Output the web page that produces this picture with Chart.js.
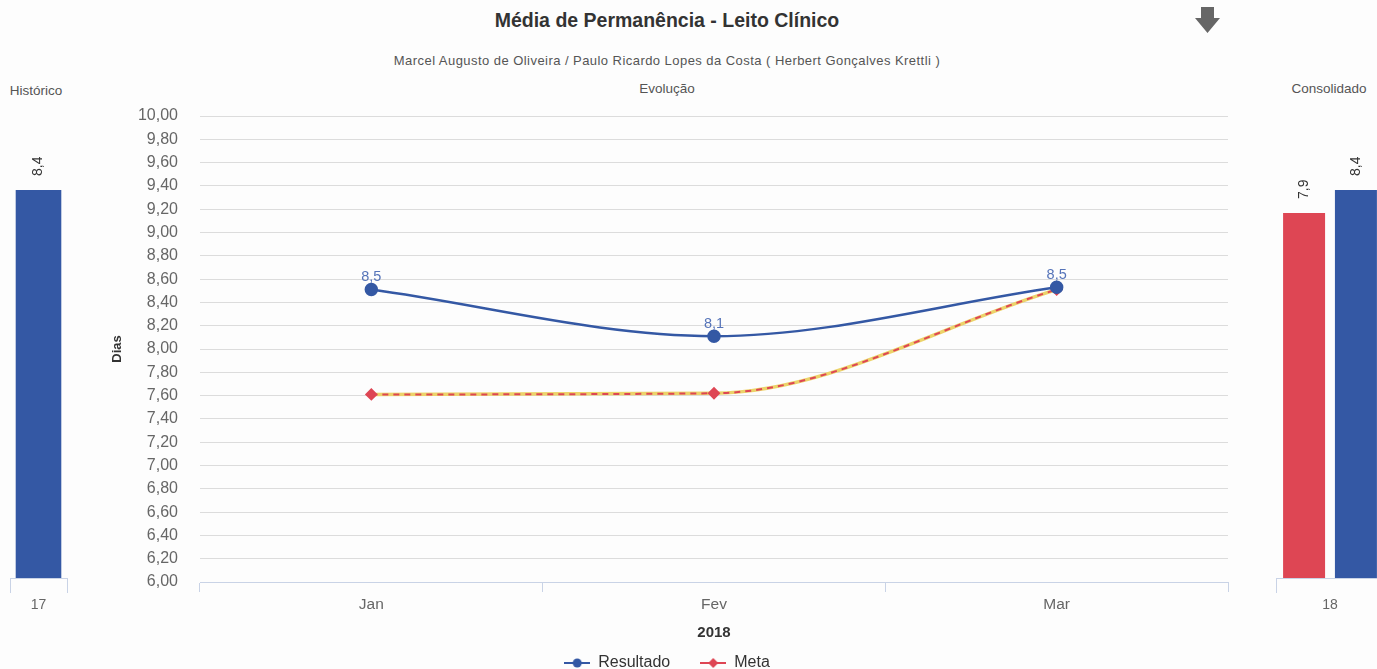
<!DOCTYPE html>
<html lang="pt-BR">
<head>
<meta charset="utf-8">
<title>Média de Permanência - Leito Clínico</title>
<script src="https://cdn.jsdelivr.net/npm/chart.js@4.4.1/dist/chart.umd.min.js"></script>
<style>
  html, body { margin: 0; padding: 0; background: #fdfdfd; }
  body { width: 1377px; height: 669px; overflow: hidden; position: relative;
         font-family: "Liberation Sans", Arial, Helvetica, sans-serif; }
  .txt { position: absolute; white-space: nowrap; transform: translateX(-50%); }
  #titulo { left: 667px; top: 9px; font-size: 19.5px; font-weight: bold; color: #333; }
  #subtitulo { left: 667px; top: 53px; font-size: 13px; letter-spacing: 0.45px; color: #555; }
  #evolucao { left: 667px; top: 81px; font-size: 13.5px; color: #555; }
  #historico { left: 36px; top: 83px; font-size: 13.5px; color: #555; }
  #consolidado { left: 1329px; top: 81px; font-size: 13.5px; color: #555; }
  .box { position: absolute; }
  #boxHist { left: 0; top: 100px; width: 80px; height: 520px; }
  #boxMain { left: 100px; top: 100px; width: 1140px; height: 581px; }
  #boxCons { left: 1260px; top: 100px; width: 140px; height: 520px; }
  #download { position: absolute; left: 1193px; top: 6px; }
</style>
</head>
<body>
<div id="titulo" class="txt">Média de Permanência - Leito Clínico</div>
<div id="subtitulo" class="txt">Marcel Augusto de Oliveira / Paulo Ricardo Lopes da Costa ( Herbert Gonçalves Krettli )</div>
<div id="evolucao" class="txt">Evolução</div>
<div id="historico" class="txt">Histórico</div>
<div id="consolidado" class="txt">Consolidado</div>
<svg id="download" width="30" height="30" viewBox="0 0 30 30">
  <polygon points="8,1 21,1 21,12 27,12 14.5,27 2,12 8,12" fill="#666"/>
</svg>
<div id="boxHist" class="box"><canvas id="cHist"></canvas></div>
<div id="boxMain" class="box"><canvas id="cMain"></canvas></div>
<div id="boxCons" class="box"><canvas id="cCons"></canvas></div>

<script>
// ---- dados ----
const meses = ['Jan', 'Fev', 'Mar'];
const resultado = [8.51, 8.11, 8.53];
const meta = [7.61, 7.62, 8.51];

const historicoRotulos = ['17'];
const historicoValores = [8.4];

const consolidadoRotulos = ['18'];
const consolidadoMeta = [7.9];
const consolidadoResultado = [8.4];

const eixoAno = '2018';
const eixoDias = 'Dias';

// ---- estilos comuns ----
const FONTE = '"Liberation Sans", Arial, Helvetica, sans-serif';
const AZUL = '#3458a4';
const VERMELHO = '#de4654';
const AMARELO = '#ecd36a';
const LINHA_EIXO = '#c9d3e6';
const GRADE = '#dcdcdc';
const CINZA = '#666666';

const virgula = (v, d) => Number(v).toFixed(d).replace('.', ',');

// pequeno ícone de legenda: traço horizontal com o marcador no meio
function marcadorLegenda(cor, forma) {
  const c = document.createElement('canvas');
  c.width = 26; c.height = 12;
  const g = c.getContext('2d');
  g.strokeStyle = cor; g.fillStyle = cor; g.lineWidth = 2;
  g.beginPath(); g.moveTo(0, 6); g.lineTo(26, 6); g.stroke();
  g.beginPath();
  if (forma === 'circle') {
    g.arc(13, 6, 4.5, 0, Math.PI * 2);
  } else {
    g.moveTo(13, 1); g.lineTo(18, 6); g.lineTo(13, 11); g.lineTo(8, 6); g.closePath();
  }
  g.fill();
  return c;
}

// rótulos numéricos sobre os pontos da linha
const rotulosLinha = {
  id: 'rotulosLinha',
  afterDatasetsDraw(chart) {
    const ctx = chart.ctx;
    const meta0 = chart.getDatasetMeta(0);
    ctx.save();
    ctx.font = '14.5px ' + FONTE;
    ctx.fillStyle = '#5674b9';
    ctx.textAlign = 'center';
    ctx.textBaseline = 'bottom';
    meta0.data.forEach((pt, i) => {
      ctx.fillText(virgula(chart.data.datasets[0].data[i], 1), pt.x, pt.y - 5);
    });
    ctx.restore();
  }
};

// rótulos verticais sobre as colunas
const rotulosColunas = {
  id: 'rotulosColunas',
  afterDatasetsDraw(chart) {
    const ctx = chart.ctx;
    ctx.save();
    ctx.font = '14px ' + FONTE;
    ctx.fillStyle = '#333';
    ctx.textAlign = 'left';
    ctx.textBaseline = 'middle';
    chart.data.datasets.forEach((ds, di) => {
      chart.getDatasetMeta(di).data.forEach((bar, i) => {
        ctx.save();
        ctx.translate(bar.x, bar.y - 14);
        ctx.rotate(-Math.PI / 2);
        ctx.fillText(virgula(ds.data[i], 1), 0, 0);
        ctx.restore();
      });
    });
    ctx.restore();
  }
};

function opcoesColunas(padLeft, padRight) {
  return {
    responsive: true,
    maintainAspectRatio: false,
    animation: false,
    layout: { padding: { left: padLeft, right: padRight, top: 16, bottom: 0 } },
    plugins: { legend: { display: false }, tooltip: { enabled: false } },
    scales: {
      y: { display: false, min: 0, max: 10 },
      x: {
        offset: true,
        grid: { offset: true, drawOnChartArea: false, drawTicks: true, tickLength: 15, color: LINHA_EIXO, lineWidth: 1 },
        border: { display: true, color: LINHA_EIXO, width: 1 },
        ticks: { color: CINZA, font: { family: FONTE, size: 14 }, padding: 4 },
        afterFit(scale) { scale.height = 42; }
      }
    }
  };
}

// ---- Histórico ----
new Chart(document.getElementById('cHist'), {
  type: 'bar',
  data: {
    labels: historicoRotulos,
    datasets: [{ label: 'Resultado', data: historicoValores, backgroundColor: AZUL,
                 barPercentage: 0.8, categoryPercentage: 1.0 }]
  },
  options: opcoesColunas(10, 13),
  plugins: [rotulosColunas]
});

// ---- Evolução ----
new Chart(document.getElementById('cMain'), {
  type: 'line',
  data: {
    labels: meses,
    datasets: [
      {
        label: 'Resultado', data: resultado,
        borderColor: AZUL, backgroundColor: AZUL, borderWidth: 2.5,
        pointStyle: 'circle', pointRadius: 5.5, pointBackgroundColor: AZUL, pointBorderColor: AZUL,
        cubicInterpolationMode: 'monotone', fill: false
      },
      {
        label: 'Meta', data: meta,
        borderColor: VERMELHO, backgroundColor: VERMELHO, borderWidth: 2, borderDash: [6, 5],
        pointStyle: 'rectRot', pointRadius: 5, pointBackgroundColor: VERMELHO, pointBorderColor: VERMELHO,
        cubicInterpolationMode: 'monotone', fill: false
      },
      {
        label: 'Meta (fundo)', data: meta,
        borderColor: AMARELO, borderWidth: 3.5, pointRadius: 0,
        cubicInterpolationMode: 'monotone', fill: false
      }
    ]
  },
  options: {
    responsive: true,
    maintainAspectRatio: false,
    animation: false,
    layout: { padding: { left: 6, right: 12, top: 16, bottom: 0 } },
    plugins: {
      tooltip: { enabled: false },
      legend: {
        position: 'bottom',
        labels: {
          usePointStyle: true,
          pointStyleWidth: 26,
          boxHeight: 12,
          color: '#333',
          font: { family: FONTE, size: 16 },
          padding: 30,
          generateLabels(chart) {
            return chart.data.datasets.slice(0, 2).map((ds, i) => ({
              text: ds.label, datasetIndex: i,
              fillStyle: ds.borderColor, strokeStyle: ds.borderColor,
              pointStyle: marcadorLegenda(ds.borderColor, ds.pointStyle),
              lineWidth: 0, hidden: false, fontColor: '#333'
            }));
          }
        }
      }
    },
    scales: {
      y: {
        min: 6, max: 10,
        title: { display: true, text: eixoDias, color: '#333', font: { family: FONTE, size: 13, weight: 'bold' }, padding: { top: 4, bottom: 4 } },
        ticks: { stepSize: 0.2, autoSkip: false, color: CINZA, font: { family: FONTE, size: 16 }, padding: 3,
                 callback: (v) => virgula(v, 2) },
        grid: { color: GRADE, drawTicks: true, tickLength: 19, tickColor: 'rgba(0,0,0,0)', lineWidth: 1 },
        border: { display: false },
        afterFit(scale) { scale.width = 94; }
      },
      x: {
        offset: true,
        title: { display: true, text: eixoAno, color: '#333', font: { family: FONTE, size: 15, weight: 'bold' }, padding: { top: 4, bottom: -17 } },
        grid: { offset: true, drawOnChartArea: false, drawTicks: true, tickLength: 10, color: LINHA_EIXO },
        border: { display: true, color: LINHA_EIXO, width: 1 },
        ticks: { color: CINZA, font: { family: FONTE, size: 15.5 }, padding: 3 },
        afterFit(scale) { scale.height = 43; }
      }
    }
  },
  plugins: [rotulosLinha]
});

// ---- Consolidado ----
new Chart(document.getElementById('cCons'), {
  type: 'bar',
  data: {
    labels: consolidadoRotulos,
    datasets: [
      { label: 'Meta', data: consolidadoMeta, backgroundColor: VERMELHO, barPercentage: 0.81, categoryPercentage: 0.96 },
      { label: 'Resultado', data: consolidadoResultado, backgroundColor: AZUL, barPercentage: 0.81, categoryPercentage: 0.96 }
    ]
  },
  options: opcoesColunas(16, 16),
  plugins: [rotulosColunas]
});
</script>
</body>
</html>
